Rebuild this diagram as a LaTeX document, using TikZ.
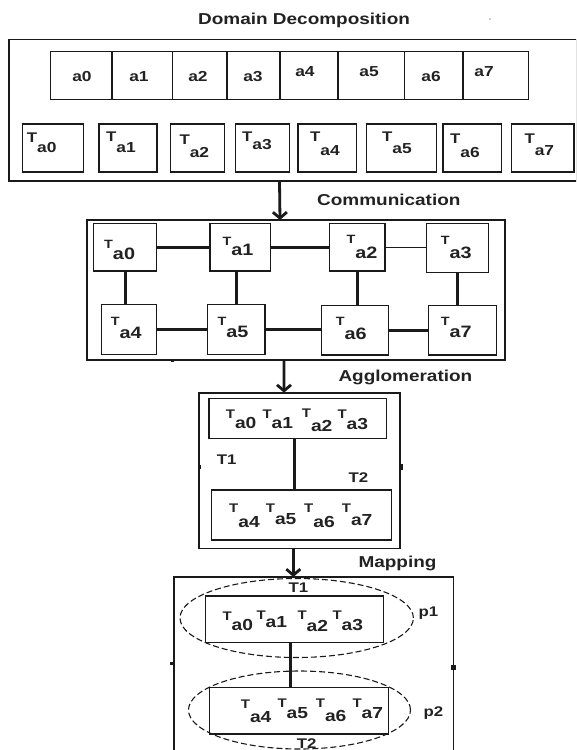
\documentclass[tikz,border=0pt]{standalone}
\usepackage{fontspec}
\setmainfont{Liberation Sans}[FakeStretch=1.2]
\usetikzlibrary{arrows.meta,shapes.geometric}

\definecolor{ink}{HTML}{1A1A1A}
\definecolor{txt}{HTML}{222222}

\newcommand\fsz[1]{\fontsize{#1}{#1}\selectfont}
% task label: T followed by a lowered index
\newcommand\Tsub[4]{{\fsz{#1}T}\raisebox{-#3pt}{\fsz{#2}#4}}
% rectangle node from its corner coordinates
\newcommand\bx[6][box]{\node[#1, minimum width={#5-#3}, minimum height={#6-#4}] (#2) at ({(#3+#5)/2},{(#4+#6)/2}) {};}

\begin{document}
\begin{tikzpicture}[x=1pt,y=-1pt,
  box/.style={draw=ink, line width=1.4pt, inner sep=0pt, outer sep=0pt},
  frame/.style={draw=ink, line width=1.6pt, inner sep=0pt, outer sep=0pt},
  link/.style={draw=ink, line width=3pt},
  thinlink/.style={draw=ink, line width=1.2pt},
  flow/.style={draw=ink, line width=2.8pt, -{Straight Barb[length=6pt,width=14pt]}},
  heading/.style={font=\bfseries\fsz{15.8}, text=txt, inner sep=0pt, anchor=base west},
  lab/.style={font=\bfseries, text=txt, inner sep=0pt, anchor=base west},
  cell/.style={font=\bfseries\fsz{14.5}, text=txt, inner sep=0pt, anchor=base},
  part/.style={draw=ink, line width=1.1pt, dash pattern=on 6pt off 3pt, ellipse, inner sep=0pt},
  speck/.style={fill=ink}
]
\useasboundingbox (0,0) rectangle (576,750);
\clip (0,0) rectangle (576,750);
\fill[white] (0,0) rectangle (576,750);

% ---------------- Domain decomposition ----------------
\node[heading] (h1) at (198,24) {Domain Decomposition};
\fill[ink!45] (490,19) circle (0.8);
\bx[frame]{f1}{9}{39.5}{577}{181}
\bx{d0}{50.5}{51.5}{112}{99.3}
\bx{d1}{112}{51.5}{172.5}{99.3}
\bx{d2}{172.5}{51.5}{227}{99.3}
\bx{d3}{227}{51.5}{280}{99.3}
\bx{d4}{280}{51.5}{338}{99.3}
\bx{d5}{338}{51.5}{404.5}{99.3}
\bx{d6}{404.5}{51.5}{463}{99.3}
\bx{d7}{463}{51.5}{528.5}{99.3}
\node[cell] (l0) at (82,81) {a0};
\node[cell] (l1) at (139,81) {a1};
\node[cell] (l2) at (198,81) {a2};
\node[cell] (l3) at (253,81) {a3};
\node[cell] (l4) at (305,76.5) {a4};
\node[cell] (l5) at (369,76.5) {a5};
\node[cell] (l6) at (431,81) {a6};
\node[cell] (l7) at (484,76.5) {a7};

\bx{s0}{22.7}{124}{83.3}{172}
\bx{s1}{99}{124}{157}{172}
\bx{s2}{170.7}{124}{224.4}{172}
\bx{s3}{235.4}{124}{289.7}{172}
\bx{s4}{297.8}{124}{356.4}{172}
\bx{s5}{366.7}{124}{436.7}{172}
\bx{s6}{443}{124}{501.7}{172}
\bx{s7}{511.7}{124}{574}{172}
\node[lab] (t0) at (26.7,142) {\Tsub{14}{14.5}{10.5}{a0}};
\node[lab] (t1) at (106,141.5) {\Tsub{14}{14.5}{10.5}{a1}};
\node[lab] (t2) at (179.3,144.5) {\Tsub{14}{14.5}{12.5}{a2}};
\node[lab] (t3) at (242,141.5) {\Tsub{14}{14.5}{8}{a3}};
\node[lab] (t4) at (310,141.5) {\Tsub{14}{14.5}{14}{a4}};
\node[lab] (t5) at (382,141.5) {\Tsub{14}{14.5}{11.5}{a5}};
\node[lab] (t6) at (450,143) {\Tsub{14}{14.5}{14}{a6}};
\node[lab] (t7) at (524.3,143) {\Tsub{14}{14.5}{12.5}{a7}};

% ---------------- Communication ----------------
\node[heading] (h2) at (317,205) {Communication};
\bx[frame]{f2}{86.7}{220}{505}{360}
\bx{c0}{93.3}{223.3}{156.7}{271}
\bx{c1}{210}{223.3}{270.7}{271}
\bx{c2}{329.3}{223.3}{385}{271}
\bx{c3}{426.7}{223.3}{488.3}{272.3}
\bx{c4}{101.7}{304.3}{156.7}{354.3}
\bx{c5}{207.3}{304.3}{265}{354.3}
\bx{c6}{321.7}{305.7}{388.3}{355}
\bx{c7}{428.3}{305.7}{496.7}{355}
\node[lab] (u0) at (104,248) {\Tsub{12}{16.5}{11}{a0}};
\node[lab] (u1) at (222.3,245) {\Tsub{12}{16.5}{10.5}{a1}};
\node[lab] (u2) at (346.3,243) {\Tsub{12}{16.5}{15}{a2}};
\node[lab] (u3) at (440.7,244) {\Tsub{12}{16.5}{14}{a3}};
\node[lab] (u4) at (110.7,325) {\Tsub{12}{16.5}{13.5}{a4}};
\node[lab] (u5) at (217.3,325) {\Tsub{12}{16.5}{12}{a5}};
\node[lab] (u6) at (335.7,325) {\Tsub{12}{16.5}{14.5}{a6}};
\node[lab] (u7) at (440.7,325) {\Tsub{12}{16.5}{12}{a7}};
\draw[link] (c0) -- (c1);
\draw[link] (c1) -- (c2);
\draw[thinlink] (c2.east) -- (c2.east -| c3.west);
\draw[link] (c4) -- (c5);
\draw[link] (c5.east) -- (c5.east -| c6.west);
\draw[link] (c6) -- (c7);
\draw[link] (c0.south) -- (c0.south |- c4.north);
\draw[link] (c5.north |- c1.south) -- (c5.north);
\draw[link] (c2.south) -- (c2.south |- c6.north);
\draw[link] (c3.south) -- (c3.south |- c7.north);
\fill[speck] (170.5,358.5) rectangle (173.5,362);

\draw[flow] ([xshift=-13.5pt]f1.south) -- ([xshift=-15.85pt]f2.north);

% ---------------- Agglomeration ----------------
\node[heading] (h3) at (338.3,381.7) {Agglomeration};
\bx[frame]{f3}{199}{392.7}{400}{548.3}
\bx{g1}{209}{398.3}{386.7}{438.3}
\bx{g2}{211.7}{490}{391.7}{540}
\node[lab] (v0) at (225.7,418.5) {\Tsub{12.5}{16}{10}{a0}};
\node[lab] (v1) at (262.3,418.5) {\Tsub{12.5}{16}{10}{a1}};
\node[lab] (v2) at (301.7,417.5) {\Tsub{12.5}{16}{14}{a2}};
\node[lab] (v3) at (337.3,418.5) {\Tsub{12.5}{16}{11}{a3}};
\node[lab] (v4) at (229,512) {\Tsub{12.5}{16}{15}{a4}};
\node[lab] (v5) at (265.7,512) {\Tsub{12.5}{16}{12.3}{a5}};
\node[lab] (v6) at (304,512) {\Tsub{12.5}{16}{15.5}{a6}};
\node[lab] (v7) at (341.7,512) {\Tsub{12.5}{16}{13.3}{a7}};
\node[lab, font=\bfseries\fsz{14}] (k1) at (216.7,464) {T1};
\node[lab, font=\bfseries\fsz{14}] (k2) at (348.3,482.7) {T2};
\draw[link] ([xshift=-3.5pt]g1.south) -- ([xshift=-3.5pt]g1.south |- g2.north);
\fill[speck] (197.8,464.5) rectangle (200.5,469);
\fill[speck] (399,463.5) rectangle (402.5,469.5);

\draw[flow] ([xshift=-11.85pt]f2.south) -- ([xshift=-15.5pt]f3.north);

% ---------------- Mapping ----------------
\node[heading] (h4) at (358.3,567.7) {Mapping};
\bx[frame]{f4}{174}{577}{453.5}{760}
\bx{m1}{205.7}{596}{383.3}{642.7}
\bx{m2}{209.3}{687.3}{388.3}{734}
\node[part, minimum width=233.4, minimum height=79] (e1) at (296.7,618) {};
\node[part, minimum width=222, minimum height=78] (e2) at (299.5,710) {};
\node[lab] (w0) at (222.3,620) {\Tsub{12.5}{16}{10}{a0}};
\node[lab] (w1) at (256.3,619.5) {\Tsub{12.5}{16}{8}{a1}};
\node[lab] (w2) at (297.3,619) {\Tsub{12.5}{16}{12.5}{a2}};
\node[lab] (w3) at (332.3,619.5) {\Tsub{12.5}{16}{11.2}{a3}};
\node[lab] (w4) at (240.7,708) {\Tsub{12.5}{16}{14}{a4}};
\node[lab] (w5) at (277.3,707.5) {\Tsub{12.5}{16}{11}{a5}};
\node[lab] (w6) at (315.7,707.5) {\Tsub{12.5}{16}{14.2}{a6}};
\node[lab] (w7) at (352.3,707.5) {\Tsub{12.5}{16}{11}{a7}};
\node[lab, font=\bfseries\fsz{14}] (n1) at (288.3,592.7) {T1};
\node[lab, font=\bfseries\fsz{14}] (p1) at (418.3,616.7) {p1};
\node[lab, font=\bfseries\fsz{14}] (p2) at (423.3,716.7) {p2};
\node[lab, font=\bfseries\fsz{14}] (n2) at (296.7,748.3) {T2};
\draw[link] ([xshift=-3.8pt]m1.south) -- ([xshift=-3.8pt]m1.south |- m2.north);
\fill[speck] (170,662) rectangle (174.5,664.5);
\fill[speck] (451.3,664.5) rectangle (455.7,669.5);

\draw[flow] ([xshift=-6.2pt]f3.south) -- ([xshift=-20.45pt]f4.north);
\end{tikzpicture}
\end{document}
